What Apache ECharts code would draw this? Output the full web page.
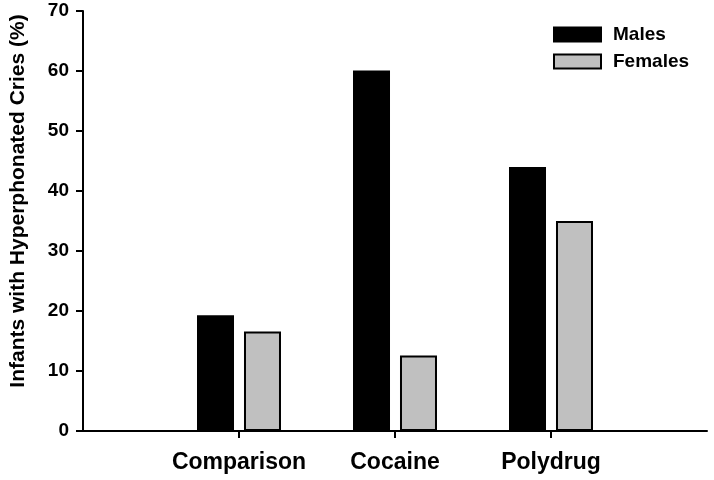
<!DOCTYPE html>
<html>
<head>
<meta charset="utf-8">
<script src="https://cdn.jsdelivr.net/npm/echarts@6/dist/echarts.min.js"></script>
<style>html,body{margin:0;padding:0;background:#fff}#c{width:714px;height:480px}</style>
</head>
<body>
<div id="c"></div>
<script>
const categories = ['', 'Comparison', 'Cocaine', 'Polydrug', ''];
const males = [null, 19.3, 60.1, 44.0, null];
const females = [null, 16.6, 12.6, 35.0, null];
const yTicks = [0, 10, 20, 30, 40, 50, 60, 70];

const font = 'Liberation Sans, Arial, sans-serif';
const chart = echarts.init(document.getElementById('c'));
chart.setOption({
  animation: false,
  backgroundColor: '#fff',
  grid: { left: 79, right: 7, top: 11, bottom: 49, containLabel: false },
  legend: {
    left: 553, top: 25, padding: 0, orient: 'vertical', icon: 'rect',
    itemWidth: 47, itemHeight: 14, itemGap: 8,
    textStyle: { fontFamily: font, fontWeight: 'bold', fontSize: 19, color: '#000', padding: [0, 0, 0, 7] },
    data: ['Males', 'Females']
  },
  xAxis: {
    type: 'category', data: categories, boundaryGap: false,
    axisLine: { lineStyle: { color: '#000', width: 2 } },
    axisTick: { length: 7, lineStyle: { color: '#000', width: 2 }, interval: (i, v) => v !== '' },
    axisLabel: { interval: 0, margin: 20, fontFamily: font, fontWeight: 'bold', fontSize: 23, color: '#000' },
    splitLine: { show: false }
  },
  yAxis: {
    type: 'value', min: yTicks[0], max: yTicks[yTicks.length - 1], interval: 10,
    name: 'Infants with Hyperphonated Cries (%)', nameLocation: 'middle', nameGap: 54,
    nameTextStyle: { fontFamily: font, fontWeight: 'bold', fontSize: 21, color: '#000', padding: [0, 0, 0, 40] },
    axisLine: { show: true, lineStyle: { color: '#000', width: 2 } },
    axisTick: { show: true, length: 7, lineStyle: { color: '#000', width: 2 } },
    axisLabel: { margin: 14, fontFamily: font, fontWeight: 'bold', fontSize: 19, color: '#000' },
    splitLine: { show: false }
  },
  series: [
    { name: 'Males', type: 'bar', data: males, barWidth: 37, barGap: '27%',
      itemStyle: { color: '#000', borderColor: '#000', borderWidth: 1.5 } },
    { name: 'Females', type: 'bar', data: females, barWidth: 37,
      itemStyle: { color: '#c0c0c0', borderColor: '#000', borderWidth: 2 } }
  ]
});
</script>
</body>
</html>
